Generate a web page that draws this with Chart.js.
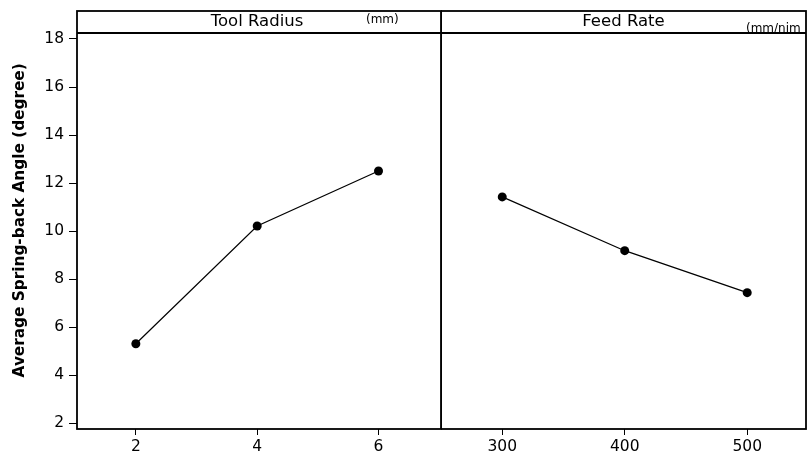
<!DOCTYPE html>
<html><head><meta charset="utf-8">
<script src="https://cdn.jsdelivr.net/npm/chart.js@4/dist/chart.umd.min.js"></script>
<style>
html,body{margin:0;padding:0;background:#fff;}
#wrap{position:relative;width:808px;height:454px;overflow:hidden;background:#fff;}
#c1{position:absolute;left:0;top:0;}
#c2{position:absolute;left:441px;top:0;}
</style></head><body>
<div id="wrap"><canvas id="c1" width="442" height="454"></canvas><canvas id="c2" width="367" height="454"></canvas></div>
<script>
// ---- data ----
const toolRadius = [2, 4, 6];
const toolRadiusMeans = [5.30, 10.21, 12.50];
const feedRate = [300, 400, 500];
const feedRateMeans = [11.42, 9.18, 7.43];
const yTicks = [2, 4, 6, 8, 10, 12, 14, 16, 18];
const yTitle = 'Average Spring-back Angle (degree)';
const panelTitles = ['Tool Radius', 'Feed Rate'];
const panelUnits = ['(mm)', '(mm/nim'];

const FONT = 'DejaVu Sans, Verdana, sans-serif';

const framePlugin = {
  id: 'frame',
  afterDraw(chart, args, opts) {
    const ctx = chart.ctx;
    const {left, right, top, bottom} = chart.chartArea;
    ctx.save();
    ctx.strokeStyle = '#000';
    ctx.lineWidth = 1.8;
    ctx.strokeRect(left, opts.stripTop, right - left, bottom - opts.stripTop);
    ctx.beginPath();
    ctx.moveTo(left, top);
    ctx.lineTo(right, top);
    ctx.stroke();
    ctx.fillStyle = '#000';
    ctx.textBaseline = 'middle';
    ctx.textAlign = 'center';
    ctx.font = '16.5px ' + FONT;
    ctx.fillText(opts.title, (left + right) / 2 + opts.titleShift, opts.titleY);
    ctx.textAlign = 'left';
    ctx.font = '12px ' + FONT;
    ctx.fillText(opts.unit, opts.unitX, opts.unitY);
    ctx.restore();
  }
};

function xScale(min, max, values) {
  return {
    type: 'linear', min: min, max: max,
    afterBuildTicks: s => { s.ticks = values.map(v => ({value: v})); },
    afterFit: s => { s.height = 25; },
    grid: {display: true, drawOnChartArea: false, drawTicks: true, tickLength: 6, color: '#000', lineWidth: 1},
    border: {display: false},
    ticks: {font: {family: FONT, size: 15.5}, color: '#000', padding: 3, maxRotation: 0, autoSkip: false}
  };
}

function yScale(show) {
  return {
    type: 'linear', min: 1.75, max: 18.25, display: show,
    afterBuildTicks: s => { s.ticks = yTicks.map(v => ({value: v})); },
    afterFit: s => { s.width = show ? 77 : 0; },
    grid: {display: true, drawOnChartArea: false, drawTicks: true, tickLength: 8, color: '#000', lineWidth: 1},
    border: {display: false},
    ticks: {font: {family: FONT, size: 15.5}, color: '#000', padding: 5, autoSkip: false},
    title: {display: true, text: '    ' + yTitle, color: '#000', font: {family: FONT, size: 15.3, weight: 'bold'}, padding: {top: 11, bottom: 0}}
  };
}

function makeChart(id, xs, ys, xmin, xmax, showY, pad, frameOpts) {
  return new Chart(document.getElementById(id), {
    type: 'line',
    data: {
      datasets: [{
        data: xs.map((x, i) => ({x: x, y: ys[i]})),
        borderColor: '#000', borderWidth: 1.2,
        pointRadius: 4.5, pointBackgroundColor: '#000', pointBorderWidth: 0,
        tension: 0, fill: false
      }]
    },
    options: {
      responsive: false, animation: false, devicePixelRatio: 1,
      layout: {padding: pad, autoPadding: false},
      scales: {x: xScale(xmin, xmax, xs), y: yScale(showY)},
      plugins: {legend: {display: false}, tooltip: {enabled: false}, frame: frameOpts}
    },
    plugins: [framePlugin]
  });
}

makeChart('c1', toolRadius, toolRadiusMeans, 1.03, 7.03, true,
  {left: 0, right: 1, top: 33, bottom: 0},
  {stripTop: 11, title: panelTitles[0], titleShift: -2, titleY: 22, unit: panelUnits[0], unitX: 366, unitY: 20});
makeChart('c2', feedRate, feedRateMeans, 250, 548, false,
  {left: 0, right: 2, top: 33, bottom: 0},
  {stripTop: 11, title: panelTitles[1], titleShift: 0, titleY: 22, unit: panelUnits[1], unitX: 305, unitY: 29});
</script>
</body></html>
